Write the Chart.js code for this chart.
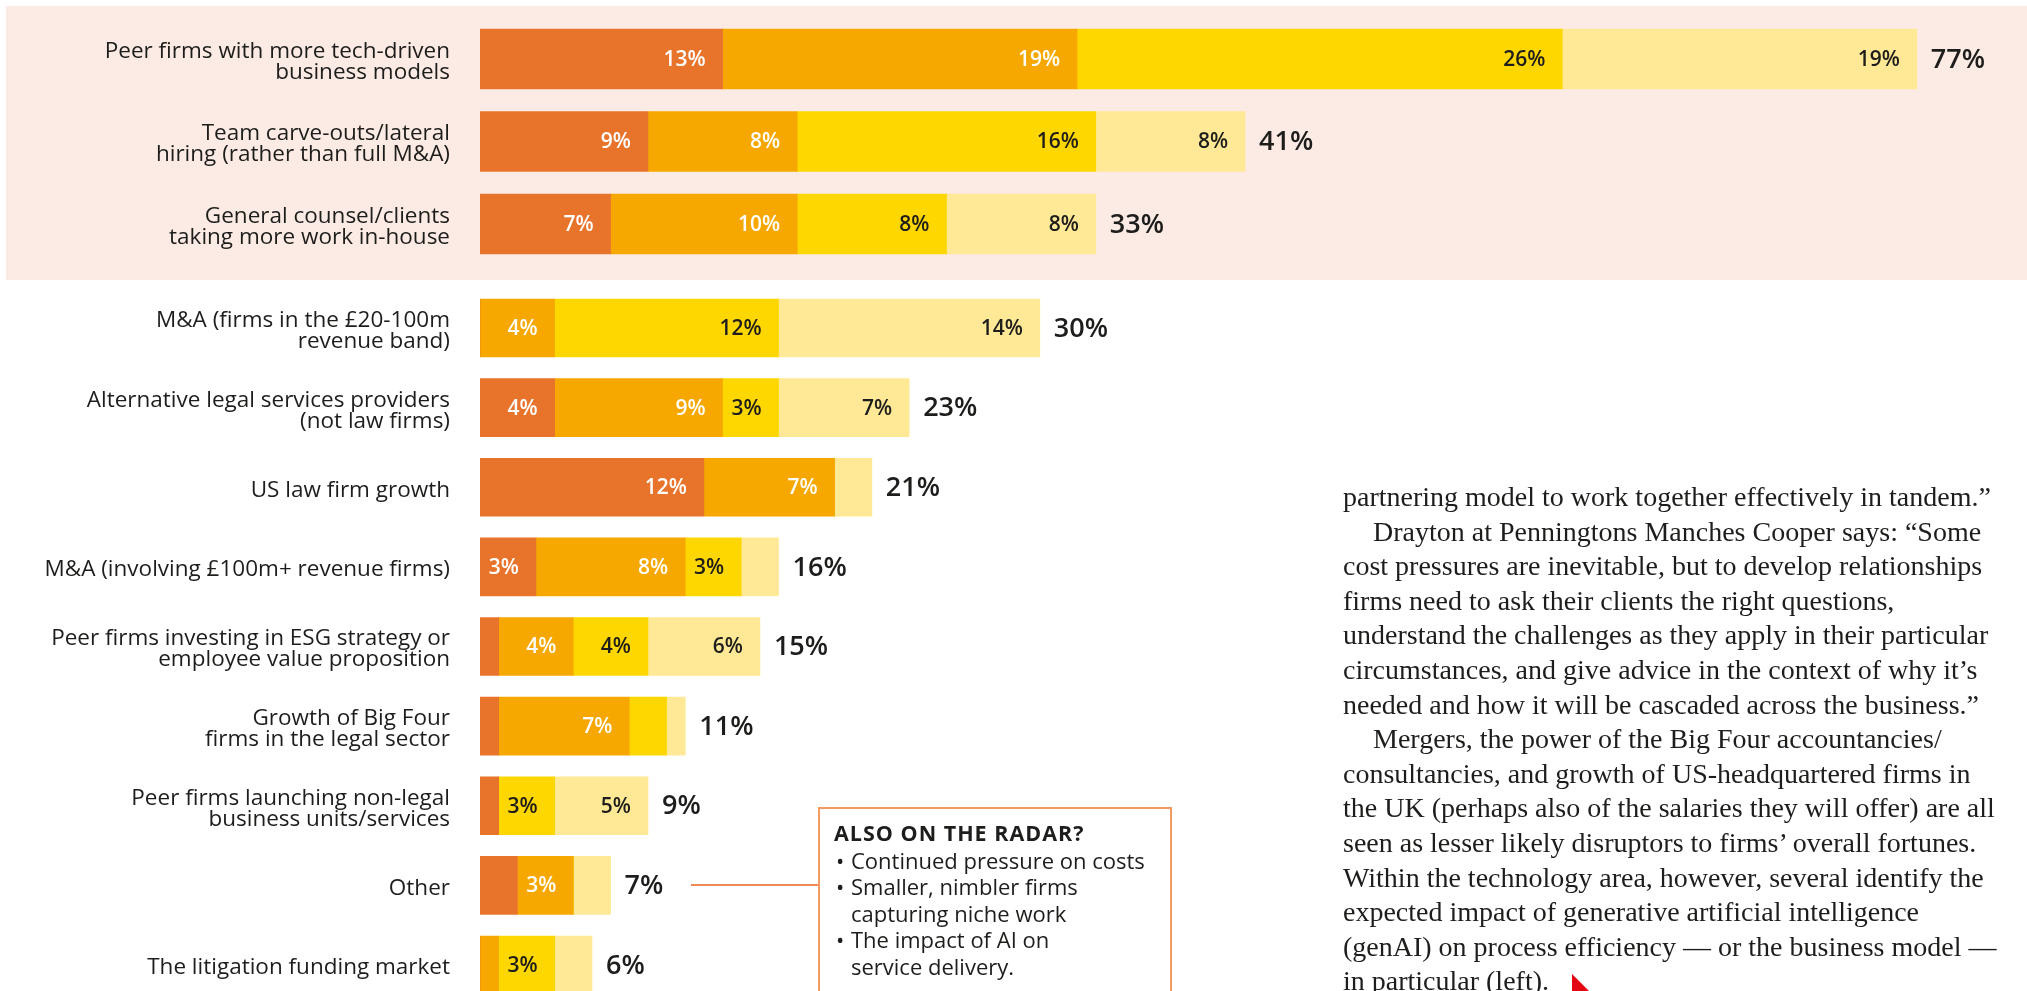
<!DOCTYPE html>
<html>
<head>
<meta charset="utf-8">
<script src="https://cdn.jsdelivr.net/npm/chart.js@4.4.1/dist/chart.umd.min.js"></script>
<style>
  html, body { margin: 0; padding: 0; background: #fff; width: 2027px; height: 991px; overflow: hidden; }
  body { position: relative; }
  #band { position: absolute; left: 6px; top: 6px; width: 2021px; height: 274px; background: #FCEBE4; }
  #wrapTop { position: absolute; left: 0; top: 0; width: 2027px; height: 280px; }
  #wrapBottom { position: absolute; left: 0; top: 280px; width: 2027px; height: 730px; }
  #connector { position: absolute; left: 691px; top: 884px; width: 127px; height: 2px; background: #EF8A50; }
  #radar { position: absolute; left: 818px; top: 807px; width: 354px; height: 240px; border: 2px solid #F29A62;
           padding: 11px 0 0 14px; box-sizing: border-box;
           font-family: "Open Sans", sans-serif; font-size: 22px; line-height: 26.5px; color: #1d1d1b; }
  #radar .title { font-weight: 700; font-size: 21.5px; letter-spacing: 1px; }
  #radar .item { position: relative; padding-left: 17px; }
  #radar .item::before { content: "\2022"; position: absolute; left: 2px; }
  #story { position: absolute; left: 1343px; top: 480px; font-family: "Liberation Serif", serif; font-size: 28px;
           line-height: 34.6px; color: #1d1d1b; }
  #story div { white-space: nowrap; }
  #story .ind { padding-left: 30px; }
  #mark { position: absolute; left: 1572px; top: 974px; width: 0; height: 0;
          border-bottom: 21px solid #E30613; border-right: 21px solid transparent; }
</style>
</head>
<body>
<div id="band"></div>
<div id="wrapTop"><canvas id="chartTop"></canvas></div>
<div id="wrapBottom"><canvas id="chartBottom"></canvas></div>
<div id="connector"></div>
<div id="radar">
  <div class="title">ALSO ON THE RADAR?</div>
  <div class="item">Continued pressure on costs</div>
  <div class="item">Smaller, nimbler firms<br>capturing niche work</div>
  <div class="item">The impact of AI on<br>service delivery.</div>
</div>
<div id="story">
  <div>partnering model to work together effectively in tandem.”</div>
  <div class="ind">Drayton at Penningtons Manches Cooper says: “Some</div>
  <div>cost pressures are inevitable, but to develop relationships</div>
  <div>firms need to ask their clients the right questions,</div>
  <div>understand the challenges as they apply in their particular</div>
  <div>circumstances, and give advice in the context of why it’s</div>
  <div>needed and how it will be cascaded across the business.”</div>
  <div class="ind">Mergers, the power of the Big Four accountancies/</div>
  <div>consultancies, and growth of US-headquartered firms in</div>
  <div>the UK (perhaps also of the salaries they will offer) are all</div>
  <div>seen as lesser likely disruptors to firms’ overall fortunes.</div>
  <div>Within the technology area, however, several identify the</div>
  <div>expected impact of generative artificial intelligence</div>
  <div>(genAI) on process efficiency — or the business model —</div>
  <div>in particular (left).</div>
</div>
<div id="mark"></div>
<script>
// categories, top to bottom
var categories = [
  ['Peer firms with more tech-driven', 'business models'],
  ['Team carve-outs/lateral', 'hiring (rather than full M&A)'],
  ['General counsel/clients', 'taking more work in-house'],
  ['M&A (firms in the £20-100m', 'revenue band)'],
  ['Alternative legal services providers', '(not law firms)'],
  'US law firm growth',
  'M&A (involving £100m+ revenue firms)',
  ['Peer firms investing in ESG strategy or', 'employee value proposition'],
  ['Growth of Big Four', 'firms in the legal sector'],
  ['Peer firms launching non-legal', 'business units/services'],
  'Other',
  'The litigation funding market'
];

// the four stacked segments (%), left to right
var band1 = [13, 9, 7, 0, 4, 12, 3, 1, 1, 1, 2, 0];
var band2 = [19, 8, 10, 4, 9, 7, 8, 4, 7, 0, 3, 1];
var band3 = [26, 16, 8, 12, 3, 0, 3, 4, 2, 3, 0, 3];
var band4 = [19, 8, 8, 14, 7, 2, 2, 6, 1, 5, 2, 2];
var totals = [77, 41, 33, 30, 23, 21, 16, 15, 11, 9, 7, 6];

// rows sitting on the pink band
var highlighted = 3;

var colours = ['#E8742C', '#F7A800', '#FFD700', '#FFE996'];
var textColours = ['#ffffff', '#ffffff', '#1d1d1b', '#1d1d1b'];

var segmentLabels = {
  id: 'segmentLabels',
  afterDatasetsDraw: function (chart) {
    var ctx = chart.ctx;
    var opts = chart.options.plugins.segmentLabels;
    ctx.save();
    ctx.textBaseline = 'middle';
    chart.data.datasets.forEach(function (ds, i) {
      var meta = chart.getDatasetMeta(i);
      meta.data.forEach(function (bar, j) {
        var v = ds.data[j];
        if (v < 3) return;
        ctx.font = '600 21px "Open Sans"';
        ctx.fillStyle = textColours[i];
        ctx.textAlign = 'right';
        ctx.fillText(v + '%', bar.x - 17, bar.y + 1);
      });
    });
    var xs = chart.scales.x, ys = chart.scales.y;
    ctx.font = '600 27px "Open Sans"';
    ctx.fillStyle = '#1d1d1b';
    ctx.textAlign = 'left';
    opts.totals.forEach(function (t, j) {
      ctx.fillText(t + '%', xs.getPixelForValue(t) + 14, ys.getPixelForValue(j) + 1);
    });
    ctx.restore();
  }
};

function makeChart(id, from, to, thickness, padTop, padBottom) {
  var data = [band1, band2, band3, band4];
  return new Chart(document.getElementById(id).getContext('2d'), {
    type: 'bar',
    data: {
      labels: categories.slice(from, to),
      datasets: data.map(function (d, i) {
        return {
          label: 'Band ' + (i + 1),
          data: d.slice(from, to),
          backgroundColor: colours[i],
          borderWidth: 0,
          barThickness: thickness
        };
      })
    },
    options: {
      indexAxis: 'y',
      responsive: true,
      maintainAspectRatio: false,
      animation: false,
      layout: { padding: { left: 0, right: 54.2, top: padTop, bottom: padBottom } },
      scales: {
        x: { stacked: true, min: 0, max: 80, display: false },
        y: {
          stacked: true,
          grid: { display: false, drawTicks: false },
          border: { display: false },
          ticks: {
            autoSkip: false,
            padding: 30,
            labelOffset: 3,
            color: '#1d1d1b',
            font: { family: 'Open Sans', size: 22.5, lineHeight: 0.93 }
          },
          afterFit: function (s) {
            s.width = 480;
            s.paddingTop = 0;
            s.paddingBottom = 0;
          }
        }
      },
      plugins: {
        legend: { display: false },
        tooltip: { enabled: false },
        segmentLabels: { totals: totals.slice(from, to) }
      }
    },
    plugins: [segmentLabels]
  });
}

makeChart('chartTop', 0, highlighted, 60, 17.75, 14.75);
makeChart('chartBottom', highlighted, categories.length, 58, 8.2, 5.2);
</script>
</body>
</html>
